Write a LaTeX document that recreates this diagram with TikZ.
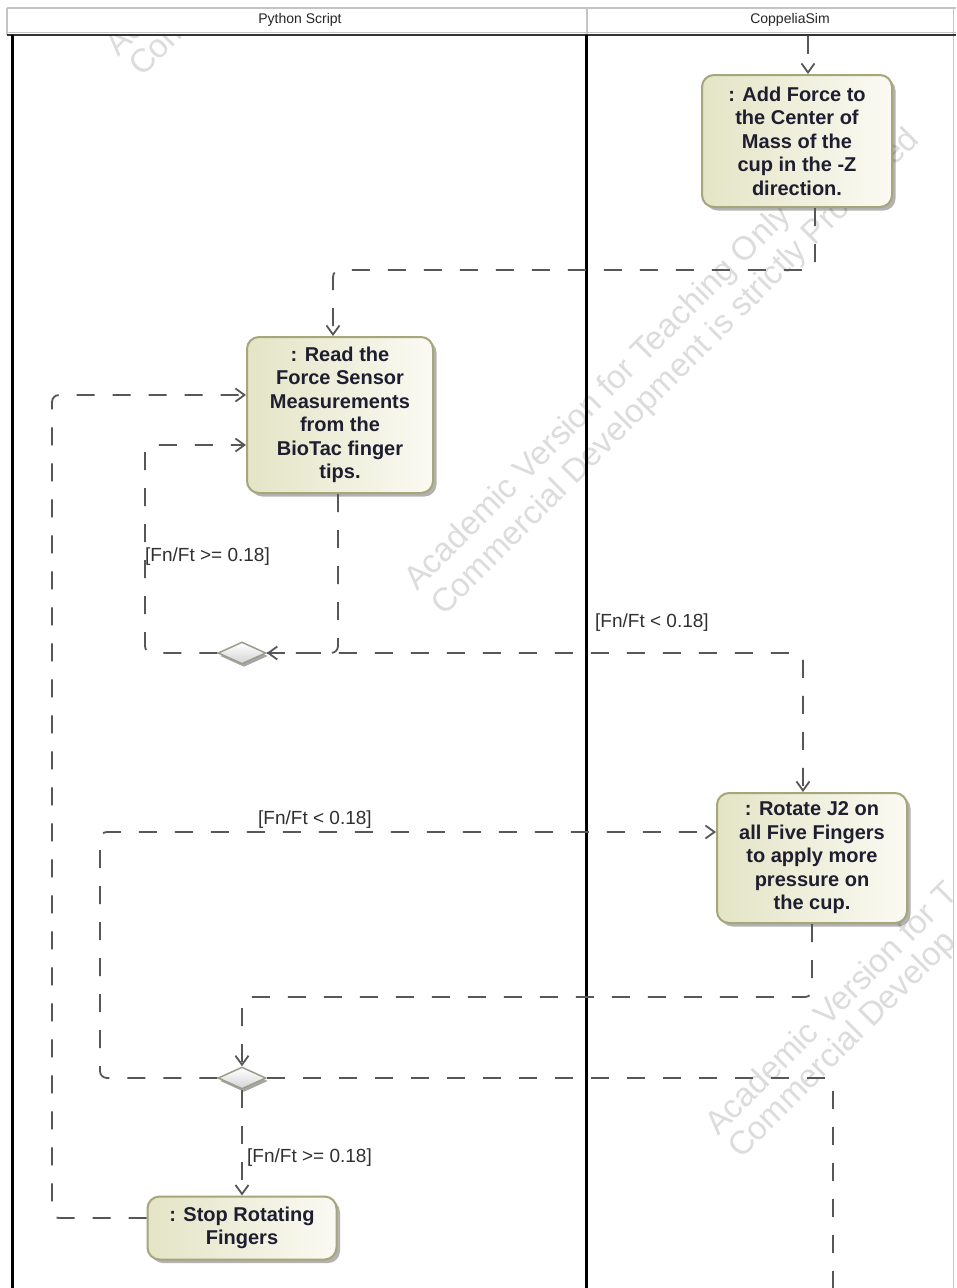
\documentclass[tikz,border=0pt]{standalone}
\usepackage{fontspec}
\setmainfont{Liberation Sans}
\usetikzlibrary{arrows.meta,shapes.geometric,shadows}
\definecolor{edgec}{HTML}{575757}
\definecolor{wmc}{HTML}{DCDCDC}
\definecolor{nodeb}{HTML}{A6A67A}
\definecolor{nodel}{HTML}{E4E4C6}
\definecolor{noder}{HTML}{FAFAF3}
\definecolor{nodet}{HTML}{1E1E30}
\definecolor{diab}{HTML}{9C9C8C}
\definecolor{diaf}{HTML}{D4D4D4}
\definecolor{labc}{HTML}{303030}
\definecolor{hdrg}{HTML}{C4C4C4}
\begin{document}
\begin{tikzpicture}[x=1pt,y=-1pt,
  wm/.style={text=wmc, font=\fontsize{33}{33}\selectfont, anchor=base west, rotate=45, inner sep=0pt},
  act/.style={rectangle, rounded corners=12pt, draw=nodeb, line width=2pt, left color=nodel, right color=noder,
    drop shadow={shadow xshift=3.5pt, shadow yshift=-3.5pt, opacity=0.3, fill=black},
    text=nodet, font=\fontsize{20}{23.5}\selectfont\bfseries, align=center, inner sep=0pt},
  dia/.style={diamond, minimum width=48pt, minimum height=22pt, inner sep=0pt, draw=diab, line width=1.5pt,
    top color=white, bottom color=diaf,
    drop shadow={shadow xshift=2pt, shadow yshift=-3pt, opacity=0.35, fill=black}},
  flow/.style={draw=edgec, line width=1.8pt, dash pattern=on 18pt off 18pt, rounded corners=7pt},
  arr/.style={-{Straight Barb[length=9pt,width=13pt]}},
  grd/.style={text=labc, font=\fontsize{19}{20}\selectfont, inner sep=0pt},
  hdr/.style={text=black!85, font=\fontsize{14}{16}\selectfont, inner sep=0pt},
]
\useasboundingbox (0,0) rectangle (956,1288);
\clip (0,0) rectangle (956,1288);
\fill[white] (0,0) rectangle (956,1288);

% watermarks (only the visible parts)
\node[wm] (w1) at (118,58) {Ac};
\node[wm] (w2) at (142,78) {Comm};
\node[wm] (w3) at (417,592) {Academic Version for Teaching Only};
\node[wm] (w4) at (444,617) {Commercial Development is strictly Prohibited};
\node[wm] (w5) at (718,1137) {Academic Version for T};
\node[wm] (w6) at (741,1160) {Commercial Develop};

% header / swimlanes
\fill[white] (0,0) rectangle (956,34);
\draw[hdrg, line width=1.2pt] (7,8) -- (956,8);
\draw[hdrg, line width=1.2pt] (7,8) -- (7,35);
\draw[hdrg, line width=1.2pt] (587,8) -- (587,35);
\draw[hdrg, line width=1pt] (953,8) -- (953,1288);
\draw[hdrg, line width=1pt] (7,32.5) -- (956,32.5);
\draw[black!80, line width=1.3pt] (7,35) -- (956,35);
\draw[black, line width=3pt] (12,35) -- (12,1288);
\draw[black, line width=3pt] (586,35) -- (586,1288);
\node[hdr] (h1) at (300,20) {Python Script};
\node[hdr] (h2) at (790,20) {CoppeliaSim};

% actions
\node[act, minimum width=190pt, minimum height=132pt] (a1) at (797,141)
  {: Add Force to\\the Center of\\Mass of the\\cup in the -Z\\direction.};
\node[act, minimum width=186pt, minimum height=156pt] (r) at (340,415)
  {: Read the\\Force Sensor\\Measurements\\from the\\BioTac finger\\tips.};
\node[act, minimum width=190pt, minimum height=130pt] (rot) at (812,858)
  {: Rotate J2 on\\all Five Fingers\\to apply more\\pressure on\\the cup.};
\node[act, minimum width=189pt, minimum height=63pt] (st) at (242,1228)
  {: Stop Rotating\\Fingers};
\node[dia] (d1) at (242,653) {};
\node[dia] (d2) at (242,1078) {};

% helper coordinates
\coordinate (top) at (808,36);
\coordinate (x1) at (815,0);
\coordinate (b1) at (333,270);
\coordinate (x2) at (338,0);
\coordinate (b3) at (145,445);
\coordinate (x4) at (803,0);
\coordinate (b5) at (812,997);
\coordinate (b6) at (100,832);
\coordinate (fin) at (833,1295);
\coordinate (b9) at (52,395);

% flows
\draw[flow,arr] (top) -- (top |- a1.north);
\draw[flow,arr] (a1.south -| x1) |- (b1) -- (b1 |- r.north);
\draw[flow,arr] (r.south -| x2) |- (d1.east);
\draw[flow,arr] (d1.west) -| (b3) -- (b3 -| r.west);
\draw[flow,arr] (d1.east) -| (x4 |- rot.north);
\draw[flow,arr] (rot.south -| b5) -- (b5) -| (d2.north);
\draw[flow,arr] (d2.west) -| (b6) -- (b6 -| rot.west);
\draw[flow,arr] (d2.south) -- (st.north);
\draw[flow] (d2.east) -| (fin);
\draw[flow,arr] ([yshift=10pt]st.west) -| (b9) -- (b9 -| r.west);

% guards
\node[grd, anchor=west] (l1) at (145,557) {[Fn/Ft >= 0.18]};
\node[grd, anchor=west] (l2) at (595,623) {[Fn/Ft < 0.18]};
\node[grd, anchor=west] (l3) at (258,820) {[Fn/Ft < 0.18]};
\node[grd, anchor=west] (l4) at (247,1158) {[Fn/Ft >= 0.18]};
\end{tikzpicture}
\end{document}
